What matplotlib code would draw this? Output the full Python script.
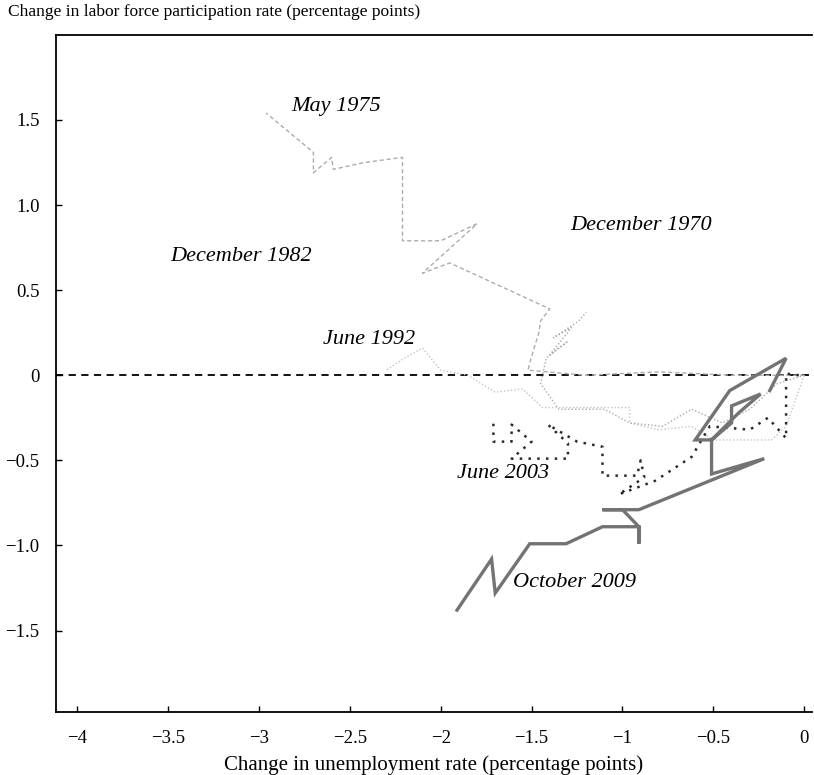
import matplotlib
matplotlib.use("Agg")
import matplotlib.pyplot as plt

# paths of (change in unemployment rate, change in LFPR)
dec1970_x = [0, -0.15, -0.30, -0.45, -0.62, -0.78, -0.96, -1.10, -1.35, -1.45, -1.42, -1.30, -1.40, -1.28, -1.38, -1.24, -1.20]
dec1970_y = [0, -0.05, -0.20, -0.28, -0.20, -0.30, -0.28, -0.20, -0.20, -0.05, 0.10, 0.20, 0.12, 0.28, 0.22, 0.32, 0.37]

may1975_x = [0, -0.40, -0.80, -1.20, -1.52, -1.50, -1.46, -1.45, -1.40, -1.95, -2.10, -1.80, -2.00, -2.21, -2.21,
             -2.42, -2.59, -2.60, -2.70, -2.70, -2.96]
may1975_y = [0, 0.00, 0.02, 0.00, 0.03, 0.11, 0.25, 0.32, 0.39, 0.66, 0.60, 0.89, 0.79, 0.79, 1.28,
             1.25, 1.21, 1.28, 1.19, 1.31, 1.54]

jun1992_x = [0, -0.05, -0.10, -0.18, -0.50, -0.62, -0.80, -0.96, -0.96, -1.44, -1.55, -1.70, -1.85, -2.00, -2.10, -2.20, -2.30]
jun1992_y = [0, -0.15, -0.30, -0.38, -0.38, -0.30, -0.32, -0.28, -0.19, -0.19, -0.08, -0.10, 0.00, 0.03, 0.16, 0.10, 0.03]

jun2003_x = [-0.03, -0.10, -0.10, -0.20, -0.30, -0.52, -0.62, -0.82, -1.02, -0.88, -0.90, -0.92, -1.11, -1.11, -1.25,
             -1.41, -1.30, -1.30, -1.61, -1.50, -1.61, -1.61, -1.71, -1.71]
jun2003_y = [0.00, 0.01, -0.37, -0.25, -0.32, -0.30, -0.48, -0.62, -0.70, -0.60, -0.50, -0.59, -0.59, -0.42, -0.39,
             -0.29, -0.40, -0.49, -0.49, -0.39, -0.29, -0.39, -0.39, -0.25]

oct2009_x = [-0.19, -0.10, -0.41, -0.60, -0.51, -0.40, -0.40, -0.24, -0.36, -0.51, -0.51, -0.22, -0.91, -1.11, -1.00,
             -0.91, -0.91, -0.91, -1.11, -1.31, -1.51, -1.70, -1.72, -1.91]
oct2009_y = [-0.09, 0.10, -0.09, -0.38, -0.38, -0.28, -0.18, -0.11, -0.22, -0.38, -0.58, -0.49, -0.79, -0.79, -0.79,
             -0.89, -0.99, -0.89, -0.89, -0.99, -0.99, -1.28, -1.08, -1.38]

labels = ["May 1975", "December 1970", "December 1982", "June 1992", "June 2003", "October 2009"]
label_x = [-2.82, -1.29, -3.49, -2.65, -1.91, -1.60]
label_y = [1.58, 0.88, 0.70, 0.21, -0.58, -1.22]

xticks = [-4, -3.5, -3, -2.5, -2, -1.5, -1, -0.5, 0]
xtick_labels = ["\u22124", "\u22123.5", "\u22123", "\u22122.5", "\u22122", "\u22121.5", "\u22121", "\u22120.5", "0"]
yticks = [1.5, 1.0, 0.5, 0, -0.5, -1.0, -1.5]
ytick_labels = ["1.5", "1.0", "0.5", "0", "\u22120.5", "\u22121.0", "\u22121.5"]

plt.rcParams["font.family"] = ["Liberation Serif", "DejaVu Serif"]

fig = plt.figure(figsize=(8.14, 7.75), dpi=100)
ax = fig.add_axes([0.069, 0.081, 0.928, 0.874])

ax.axhline(0, color="black", ls=(0, (4, 3)), lw=1.3, zorder=1)
ax.plot(jun1992_x, jun1992_y, color="#c4c4c4", ls=(0, (1, 1.5)), lw=1.0)
ax.plot(dec1970_x, dec1970_y, color="#ababab", ls=(0, (1, 1.5)), lw=1.0)
ax.plot(may1975_x, may1975_y, color="#acacac", ls=(0, (3, 2)), lw=1.0)
ax.plot(jun2003_x, jun2003_y, color="#2a2a2a", ls=(0, (1, 2.5)), lw=1.8)
ax.plot(oct2009_x, oct2009_y, color="#737373", lw=2.4, solid_joinstyle="miter")

for t, x, y in zip(labels, label_x, label_y):
    ax.text(x, y, t, fontsize=16, style="italic", ha="left", va="center")

ax.set_xlim(-4.115, 0.04)
ax.set_ylim(-1.98, 2.0)
ax.set_xticks(xticks)
ax.set_xticklabels(xtick_labels)
ax.set_yticks(yticks)
ax.set_yticklabels(ytick_labels)
ax.tick_params(direction="in", length=4, width=1, labelsize=13.5)
ax.tick_params(axis="x", pad=13)
ax.tick_params(axis="y", pad=12)
ax.spines["right"].set_visible(False)
for s in ["left", "bottom", "top"]:
    ax.spines[s].set_linewidth(1.3)

ax.set_xlabel("Change in unemployment rate (percentage points)", fontsize=15, labelpad=6)
fig.text(0.01, 0.984, "Change in labor force participation rate (percentage points)",
         fontsize=12.5, ha="left", va="center")

fig.savefig("out.png", dpi=100)
